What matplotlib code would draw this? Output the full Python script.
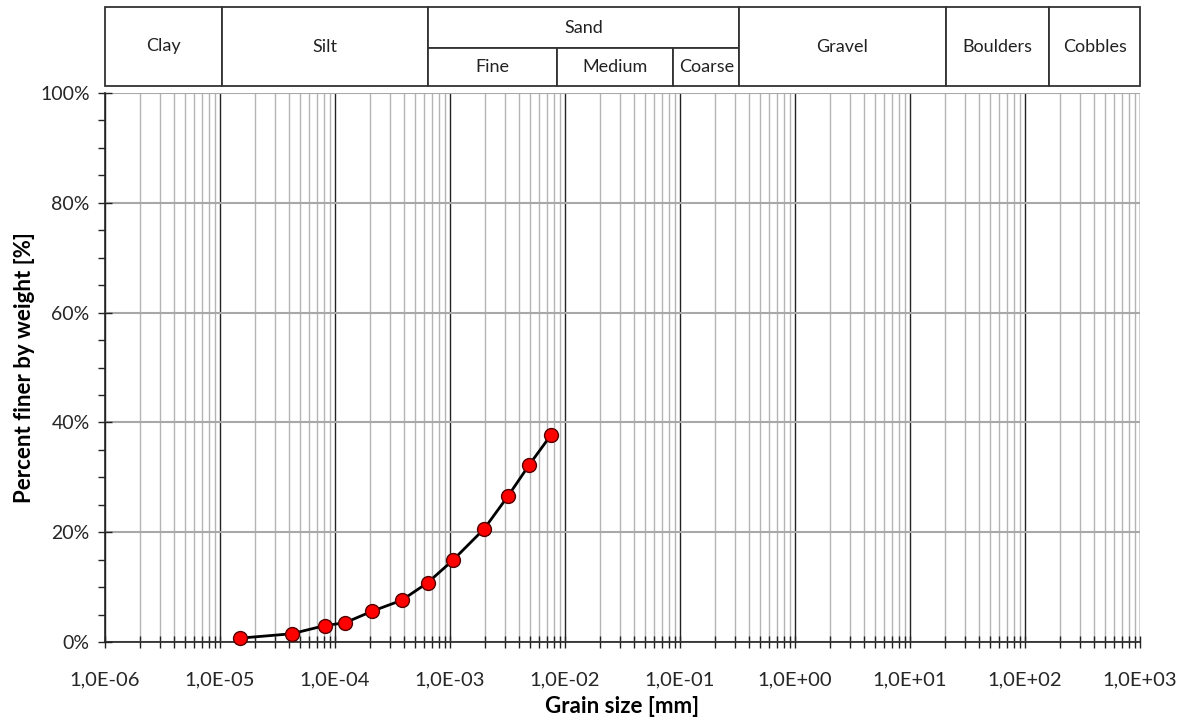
import matplotlib
matplotlib.use("Agg")
import matplotlib.pyplot as plt
import matplotlib.ticker as mticker
from matplotlib.patches import Rectangle
import numpy as np

# ---- data ----
grain_size_mm = [1.49e-5, 4.2e-5, 8.2e-5, 1.22e-4, 2.1e-4, 3.8e-4, 6.4e-4,
                 1.06e-3, 1.98e-3, 3.2e-3, 4.86e-3, 7.55e-3]
percent_finer = [0.7, 1.5, 3.0, 3.5, 5.6, 7.6, 10.8, 14.9, 20.6, 26.6, 32.2, 37.7]

# classification header
class_labels = ["Clay", "Silt", "Sand", "Fine", "Medium", "Coarse", "Gravel", "Boulders", "Cobbles"]
class_lo = [1e-6, 1.05e-5, 6.44e-4, 6.44e-4, 8.6e-3, 0.0877, 0.326, 20.6, 163]
class_hi = [1.05e-5, 6.44e-4, 0.326, 8.6e-3, 0.0877, 0.326, 20.6, 163, 1000]
class_row = ["full", "full", "top", "bottom", "bottom", "bottom", "full", "full", "full"]

x_decades = [1e-6, 1e-5, 1e-4, 1e-3, 1e-2, 1e-1, 1e0, 1e1, 1e2, 1e3]
y_ticks = [0, 20, 40, 60, 80, 100]

plt.rcParams['font.family'] = ['Lato', 'DejaVu Sans']

fig = plt.figure(figsize=(11.89, 7.21), dpi=100)
ax = fig.add_axes([105/1189, 79/721, 1035/1189, 549/721])
hax = fig.add_axes([105/1189, 635/721, 1035/1189, 79/721])

x_min, x_max = x_decades[0], x_decades[-1]

# main axes
ax.set_xscale('log')
ax.set_xlim(x_min, x_max)
ax.set_ylim(0, 100)

ax.xaxis.set_major_locator(mticker.FixedLocator(x_decades))
ax.xaxis.set_minor_locator(mticker.LogLocator(base=10, subs=np.arange(2, 10), numticks=200))
ax.xaxis.set_major_formatter(mticker.FuncFormatter(lambda v, p: f"{v:.1E}".replace('.', ',')))
ax.xaxis.set_minor_formatter(mticker.NullFormatter())
ax.yaxis.set_major_locator(mticker.FixedLocator(y_ticks))
ax.yaxis.set_minor_locator(mticker.MultipleLocator(5))
ax.yaxis.set_major_formatter(mticker.FuncFormatter(lambda v, p: f"{v:.0f}%"))

ax.grid(which='major', axis='x', color='#222222', linewidth=1.0)
ax.grid(which='minor', axis='x', color='#b4b4b4', linewidth=1.0)
ax.grid(which='major', axis='y', color='#a8a8a8', linewidth=1.5)
ax.set_axisbelow(True)

for s in ['top', 'right']:
    ax.spines[s].set_visible(False)
ax.spines['left'].set_color('#222222')
ax.spines['bottom'].set_color('#222222')
ax.spines['left'].set_linewidth(1.2)
ax.spines['bottom'].set_linewidth(1.2)

ax.tick_params(axis='x', which='both', direction='inout', length=9, width=1, color='#222222',
               labelsize=14.5, pad=17, labelcolor='#262626')
ax.tick_params(axis='y', which='major', direction='inout', length=10, width=1, color='#222222',
               labelsize=14, pad=6, labelcolor='#262626')
ax.tick_params(axis='y', which='minor', direction='out', length=5, width=1, color='#222222')

ax.plot(grain_size_mm, percent_finer, color='black', linewidth=2.0, marker='o',
        markersize=10, markerfacecolor='#ff0000', markeredgecolor='#550000',
        markeredgewidth=1.0, zorder=5, clip_on=False)

ax.set_xlabel("Grain size [mm]", fontsize=16, fontweight='bold', labelpad=5)
ax.set_ylabel("Percent finer by weight [%]", fontsize=16, fontweight='bold', labelpad=4)

# header axes
hax.set_xscale('log')
hax.set_xlim(x_min, x_max)
hax.set_ylim(0, 1)
hax.axis('off')
for lab, lo, hi, row in zip(class_labels, class_lo, class_hi, class_row):
    if row == 'full':
        y0, y1 = 0.0, 1.0
    elif row == 'top':
        y0, y1 = 0.481, 1.0
    else:
        y0, y1 = 0.0, 0.481
    hax.add_patch(Rectangle((lo, y0), hi - lo, y1 - y0, facecolor='white',
                            edgecolor='#333333', linewidth=1.3, clip_on=False))
    hax.text(np.sqrt(lo * hi), (y0 + y1) / 2, lab, ha='center', va='center',
             fontsize=13, color='#222222')

fig.savefig("out.png", dpi=100)
